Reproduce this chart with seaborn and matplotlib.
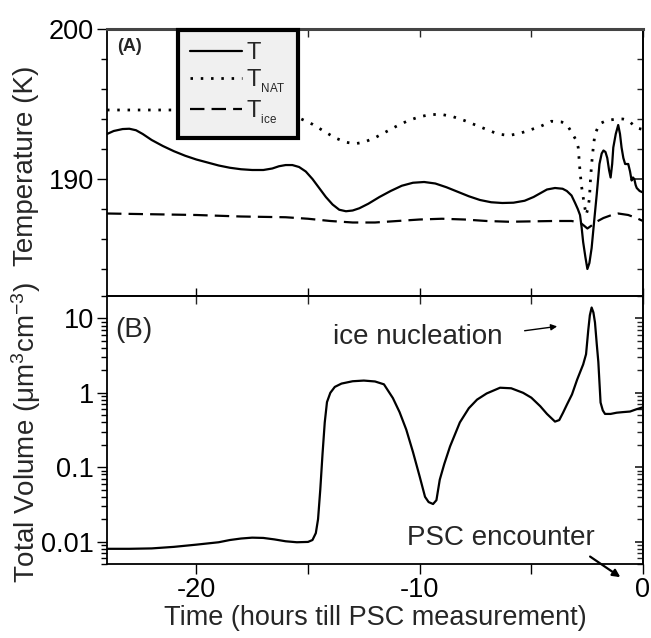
import numpy as np
import pandas as pd
import seaborn as sns
import matplotlib.pyplot as plt
from matplotlib.ticker import MultipleLocator, LogLocator, FuncFormatter, NullFormatter

# ---- data -----------------------------------------------------------------
# (A) air temperature along the trajectory (K)
hours_T = [-24, -23.7, -23.3, -23, -22.7, -22.4, -22, -21.5, -21, -20.5, -20,
           -19.5, -19, -18.5, -18, -17.5, -17, -16.6, -16.3, -16.0, -15.7,
           -15.4, -15.1, -14.8, -14.5, -14.2, -13.9, -13.6, -13.3, -13.0,
           -12.7, -12.3, -11.8, -11.3, -10.8, -10.3, -9.8, -9.3, -8.8, -8.3,
           -7.8, -7.3, -6.8, -6.3, -5.8, -5.3, -4.9, -4.6, -4.3, -3.94, -3.6,
           -3.41, -3.2, -3.04, -2.92, -2.82, -2.75, -2.68, -2.58, -2.49, -2.40,
           -2.30, -2.18, -2.07, -1.95, -1.85, -1.77, -1.68, -1.60, -1.52,
           -1.45, -1.38, -1.33, -1.22, -1.11, -1.03, -0.96, -0.88, -0.80,
           -0.72, -0.66, -0.58, -0.51, -0.45, -0.39, -0.33, -0.28, -0.15, 0]
T_air = [193.0, 193.2, 193.33, 193.35, 193.25, 193.0, 192.6, 192.2, 191.85,
         191.55, 191.3, 191.1, 190.9, 190.75, 190.65, 190.6, 190.6, 190.7,
         190.85, 190.93, 190.93, 190.8, 190.5, 190.0, 189.4, 188.8, 188.3,
         187.95, 187.85, 187.9, 188.05, 188.35, 188.8, 189.2, 189.55, 189.75,
         189.8, 189.7, 189.45, 189.15, 188.85, 188.6, 188.45, 188.4, 188.42,
         188.55, 188.8, 189.05, 189.3, 189.4, 189.35, 189.2, 188.9, 188.4,
         188.0, 187.6, 186.8, 185.8, 184.8, 184.0, 184.4, 185.4, 187.3, 189.0,
         191.0, 191.7, 191.9, 191.8, 191.4, 190.6, 190.1, 191.0, 192.1, 193.0,
         193.6, 193.0, 192.1, 191.4, 191.0, 191.0, 191.0, 190.5, 189.9, 190.1,
         190.0, 189.6, 189.4, 189.2, 189.1]

# NAT existence temperature (K)
hours_NAT = [-24, -22, -20, -18, -17, -16.3, -15.8, -15.3, -14.8, -14.3, -13.8,
             -13.3, -12.9, -12.5, -12.0, -11.5, -11.0, -10.5, -10.0, -9.5,
             -9.0, -8.5, -8.0, -7.5, -7.0, -6.5, -6.0, -5.5, -5.0, -4.6, -4.1,
             -3.64, -3.4, -3.19, -3.0, -2.9, -2.82, -2.75, -2.67, -2.55, -2.47,
             -2.40, -2.35, -2.30, -2.22, -2.15, -2.0, -1.92, -1.63, -1.18, -0.9,
             -0.66, -0.28, 0]
T_nat = [194.6, 194.6, 194.6, 194.55, 194.5, 194.4, 194.25, 194.0, 193.65,
         193.2, 192.75, 192.45, 192.35, 192.45, 192.75, 193.15, 193.55, 193.9,
         194.15, 194.3, 194.3, 194.15, 193.9, 193.6, 193.3, 193.0, 192.9,
         193.05, 193.3, 193.5, 193.85, 193.8, 193.6, 193.1, 192.6, 192.1,
         190.5, 189.5, 188.7, 187.6, 188.0, 188.7, 190.0, 191.0, 192.2, 193.0,
         193.5, 193.7, 193.9, 194.0, 194.0, 193.9, 193.4, 193.3]

# ice frost point (K)
hours_ice = [-24, -22, -20, -18, -16, -15, -14, -13, -12, -11, -10, -9, -8,
             -7, -6, -4, -3.2, -2.82, -2.65, -2.49, -2.3, -2.15, -1.77, -1.4,
             -1.11, -0.66, -0.3, 0]
T_ice = [187.7, 187.65, 187.6, 187.5, 187.45, 187.35, 187.2, 187.1, 187.1,
         187.2, 187.3, 187.35, 187.3, 187.2, 187.15, 187.2, 187.2, 187.1,
         186.9, 186.7, 186.9, 187.1, 187.4, 187.6, 187.7, 187.6, 187.4, 187.2]

# (B) total particle volume (um^3 cm^-3)
hours_V = [-24, -23, -22, -21, -20, -19, -18.5, -18, -17.5, -17, -16.5, -16,
           -15.5, -15.0, -14.8, -14.65, -14.55, -14.45, -14.35, -14.25, -14.15,
           -14.0, -13.8, -13.5, -13.0, -12.5, -12.0, -11.6, -11.2, -10.9,
           -10.6, -10.3, -10.0, -9.76, -9.6, -9.4, -9.25, -9.1, -8.9, -8.64,
           -8.2, -7.8, -7.43, -7.0, -6.4, -5.9, -5.37, -5.0, -4.6, -4.3, -3.94,
           -3.75, -3.58, -3.4, -3.18, -2.95, -2.8, -2.68, -2.55, -2.5, -2.45,
           -2.38, -2.3, -2.22, -2.15, -2.07, -2.0, -1.9, -1.8, -1.7, -1.45,
           -1.18, -0.9, -0.58, -0.3, 0]
volume = [0.0080, 0.0080, 0.0081, 0.0085, 0.0091, 0.0098, 0.0105, 0.011,
          0.0113, 0.0112, 0.0107, 0.0101, 0.0098, 0.0099, 0.0105, 0.013, 0.02,
          0.05, 0.15, 0.4, 0.75, 1.0, 1.2, 1.33, 1.43, 1.46, 1.42, 1.3, 0.85,
          0.55, 0.32, 0.16, 0.075, 0.040, 0.034, 0.032, 0.036, 0.068, 0.11,
          0.19, 0.40, 0.62, 0.81, 0.98, 1.17, 1.15, 1.0, 0.86, 0.66, 0.52,
          0.41, 0.43, 0.54, 0.7, 0.95, 1.5, 1.95, 2.4, 3.3, 4.8, 7.0, 11.0,
          14.0, 12.0, 8.8, 4.5, 2.6, 0.74, 0.58, 0.52, 0.52, 0.54, 0.55, 0.56,
          0.6, 0.64]

x_ticks = [-20, -15, -10, -5, 0]
x_ticklabels = ['-20', '', '-10', '', '0']

# ---- style ----------------------------------------------------------------
sns.set_theme(style="ticks")
plt.rcParams['font.family'] = ['Liberation Sans', 'DejaVu Sans']
plt.rcParams['mathtext.fontset'] = 'custom'
plt.rcParams['mathtext.rm'] = 'Liberation Sans'
plt.rcParams['mathtext.it'] = 'Liberation Sans:italic'
plt.rcParams['mathtext.bf'] = 'Liberation Sans:bold'
FS = 20
TICK_FS = 19.5

fig = plt.figure(figsize=(6.51, 6.38), dpi=100)
axA = fig.add_axes([0.16436, 0.53605, 0.82335, 0.41850])
axB = fig.add_axes([0.16436, 0.11599, 0.82335, 0.42006])

sub_nat = r'T$_{_{\mathregular{NAT}}}$'
sub_ice = r'T$_{_{\mathregular{ice}}}$'

sns.lineplot(x=hours_T, y=T_air, ax=axA, color='black', lw=1.6,
             estimator=None, sort=False, label='T')
sns.lineplot(x=hours_NAT, y=T_nat, ax=axA, color='black', lw=2.0,
             linestyle=(0, (0.9, 2.8)), estimator=None, sort=False,
             label=sub_nat)
sns.lineplot(x=hours_ice, y=T_ice, ax=axA, color='black', lw=1.6,
             linestyle=(0, (6.5, 3.2)), estimator=None, sort=False,
             label=sub_ice)

sns.lineplot(x=hours_V, y=volume, ax=axB, color='black', lw=1.6,
             estimator=None, sort=False, legend=False)

# ---- axes -----------------------------------------------------------------
for ax in (axA, axB):
    ax.set_xlim(-24, 0)
    ax.set_xticks(x_ticks)
    for side in ('left', 'right', 'top', 'bottom'):
        ax.spines[side].set_linewidth(1.3)
        ax.spines[side].set_color('black')
    ax.tick_params(which='both', direction='out', width=1.0, colors='black',
                   labelsize=TICK_FS, pad=2.5)
    ax.tick_params(which='major', length=7)
    ax.tick_params(which='minor', length=4)
    ax.set_xlabel('')
    ax.set_ylabel('')
    sec_x = ax.secondary_xaxis('top')
    sec_x.set_xticks(x_ticks)
    sec_x.tick_params(which='both', direction='in', length=6, width=1.0,
                      labeltop=False)
    sec_x.spines['top'].set_linewidth(1.3)

axA.spines['top'].set_color('#444444')
axA.spines['top'].set_linewidth(2.2)

axA.set_ylim(182.2, 200)
axA.yaxis.set_major_locator(MultipleLocator(10))
axA.yaxis.set_minor_locator(MultipleLocator(2))
axA.tick_params(axis='x', labelbottom=False, direction='in', length=6)
secA = axA.secondary_yaxis('right')
secA.yaxis.set_major_locator(MultipleLocator(10))
secA.yaxis.set_minor_locator(MultipleLocator(2))
secA.tick_params(which='both', direction='in', labelright=False)
secA.tick_params(which='major', length=7)
secA.tick_params(which='minor', length=4)

axB.set_yscale('log')
axB.set_ylim(0.005, 20)
axB.yaxis.set_major_locator(LogLocator(base=10, subs=(1.0,)))
axB.yaxis.set_major_formatter(FuncFormatter(lambda v, p: f'{v:g}'))
axB.yaxis.set_minor_locator(LogLocator(base=10, subs=np.arange(2, 10)))
axB.yaxis.set_minor_formatter(NullFormatter())
axB.set_xticklabels(x_ticklabels)
secB = axB.secondary_yaxis('right')
secB.tick_params(which='both', direction='in', labelright=False)
secB.yaxis.set_minor_formatter(NullFormatter())

# ---- labels ---------------------------------------------------------------
fig.text(26 / 651, 1 - 166 / 638, 'Temperature (K)', rotation=90,
         ha='center', va='center', fontsize=FS)
fig.text(26 / 651, 1 - 432 / 638,
         r'Total Volume ($\mathregular{\mu}$m$^{3}$cm$^{-3}$)',
         rotation=90, ha='center', va='center', fontsize=FS)
axB.set_xlabel('Time (hours till PSC measurement)', fontsize=19.5, labelpad=1)

axA.text(0.019, 0.933, '(A)', transform=axA.transAxes, fontsize=13,
         fontweight='bold', ha='left', va='center')
axB.text(0.015, 0.873, '(B)', transform=axB.transAxes, fontsize=FS,
         ha='left', va='center')

axB.text(0.4216, 0.847, 'ice nucleation', transform=axB.transAxes,
         fontsize=FS, ha='left', va='center')
axB.annotate('', xy=(0.845, 0.888), xytext=(0.774, 0.869),
             xycoords='axes fraction', textcoords='axes fraction',
             arrowprops=dict(arrowstyle='-|>', color='black', lw=1.0,
                             mutation_scale=9))
axB.text(0.56, 0.097, 'PSC encounter', transform=axB.transAxes,
         fontsize=FS, ha='left', va='center')
axB.annotate('', xy=(0.962, -0.055), xytext=(0.897, 0.0336),
             xycoords='axes fraction', textcoords='axes fraction',
             annotation_clip=False,
             arrowprops=dict(arrowstyle='-|>', color='black', lw=1.6,
                             mutation_scale=11))

# ---- legend ---------------------------------------------------------------
leg = axA.legend(loc='upper left', bbox_to_anchor=(0.1325, 0.996),
                 borderaxespad=0, frameon=True, fancybox=False,
                 fontsize=17, handlelength=2.2, handletextpad=0.2,
                 labelspacing=0.14, borderpad=0.5)
frame = leg.get_frame()
frame.set_edgecolor('black')
frame.set_linewidth(3)
frame.set_facecolor('#f0f0f0')
frame.set_alpha(1)

fig.savefig('out.png', dpi=100)
